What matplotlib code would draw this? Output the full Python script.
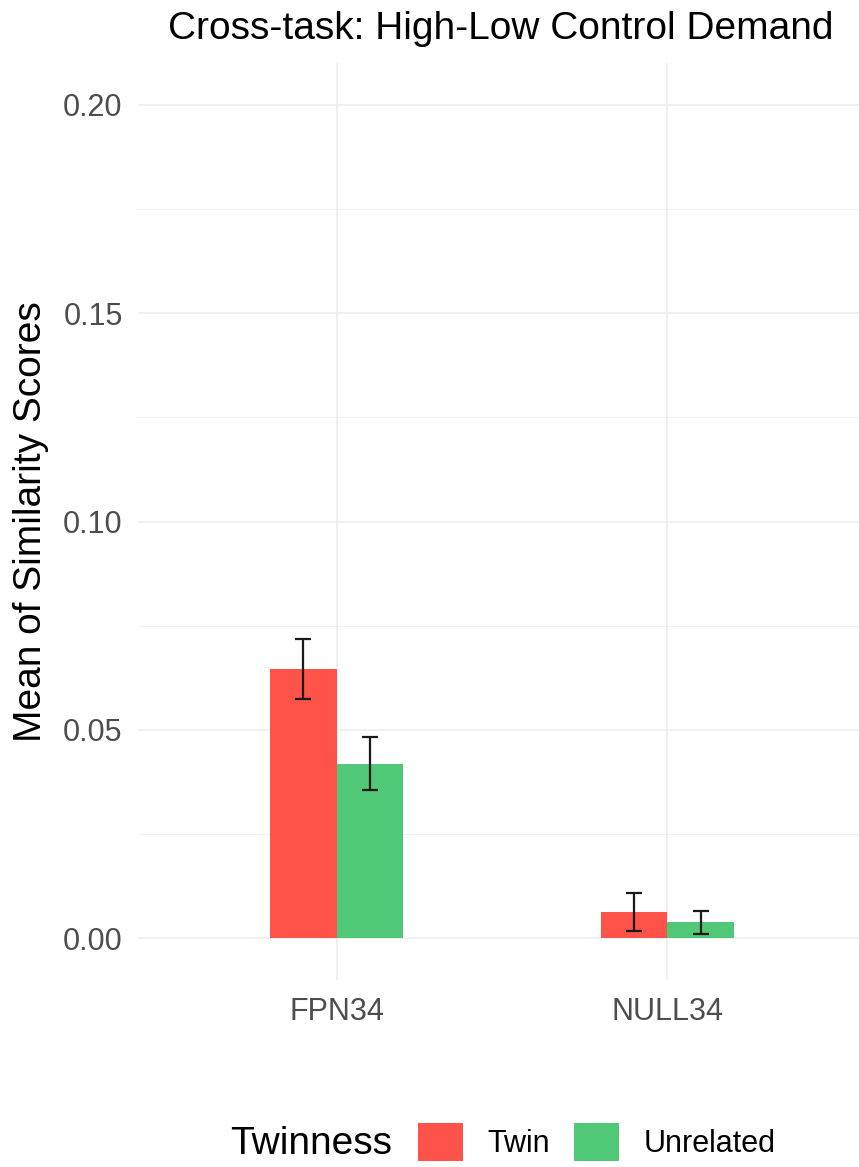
import matplotlib
matplotlib.use("Agg")
import matplotlib.pyplot as plt
from matplotlib.patches import Patch
import numpy as np

plt.rcParams["font.family"] = ["Liberation Sans", "DejaVu Sans"]

# Data
networks = ["FPN34", "NULL34"]
groups = ["Twin", "Unrelated"]
twin_means = [0.0646, 0.0063]
twin_se = [0.0072, 0.0045]
unrel_means = [0.0419, 0.0038]
unrel_se = [0.0063, 0.0027]
y_ticks = [0.00, 0.05, 0.10, 0.15, 0.20]
y_tick_labels = ["0.00", "0.05", "0.10", "0.15", "0.20"]

colors = {"Twin": "#FF5249", "Unrelated": "#50C878"}

W, H = 859, 1167
fig = plt.figure(figsize=(W / 100, H / 100), dpi=100)

# panel geometry in pixels
left, right, top, bottom = 138, 866, 63, 980
ax = fig.add_axes([left / W, 1 - bottom / H, (right - left) / W, (bottom - top) / H])

x = np.arange(1, len(networks) + 1)
bw = 0.2
ax.bar(x - bw / 2, twin_means, width=bw, color=colors["Twin"], zorder=2)
ax.bar(x + bw / 2, unrel_means, width=bw, color=colors["Unrelated"], zorder=2)

ekw = dict(fmt="none", ecolor="#1a1a1a", elinewidth=1.6, capsize=5.8, capthick=1.6, zorder=3)
ax.errorbar(x - bw / 2, twin_means, yerr=twin_se, **ekw)
ax.errorbar(x + bw / 2, unrel_means, yerr=unrel_se, **ekw)

ax.set_xlim(0.4, 2.6)
ax.set_ylim(-0.01, 0.21)

# grid: major and minor lines
for yv in y_ticks:
    ax.axhline(yv, color="#EBEBEB", lw=1.1, zorder=0)
for yv in np.arange(0.025, 0.21, 0.05):
    ax.axhline(yv, color="#F2F2F2", lw=0.7, zorder=0)
for xv in x:
    ax.axvline(xv, color="#EBEBEB", lw=1.1, zorder=0)

ax.set_yticks(y_ticks)
ax.set_yticklabels(y_tick_labels)
ax.set_xticks(x)
ax.set_xticklabels(networks)
ax.tick_params(axis="both", length=0, labelsize=22, colors="#4D4D4D")
ax.tick_params(axis="y", pad=11)
ax.tick_params(axis="x", pad=12)
for s in ax.spines.values():
    s.set_visible(False)

fig.text(501 / W, 1 - 39 / H, "Cross-task: High-Low Control Demand",
         ha="center", va="baseline", fontsize=28, color="black")
fig.text(31 / W, 1 - 521.5 / H, "Mean of Similarity Scores",
         ha="center", va="center", rotation=90, fontsize=28, color="black")

# legend
handles = [Patch(facecolor=colors[g], edgecolor="none", label=g) for g in groups]
fig.legend(handles=handles, loc="center left", ncol=2,
           bbox_to_anchor=(418 / W, 1 - 1142 / H), frameon=False,
           fontsize=22, handlelength=1.47, handleheight=1.57,
           handletextpad=0.8, columnspacing=0.8, borderpad=0, borderaxespad=0)
fig.text(230 / W, 1 - 1154 / H, "Twinness", ha="left", va="baseline", fontsize=28)

fig.savefig("out.png", dpi=100)
